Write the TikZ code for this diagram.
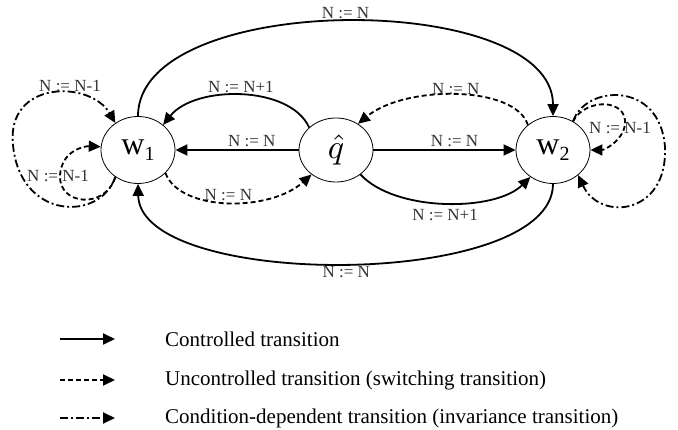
\documentclass[tikz,border=0pt]{standalone}
\usepackage{fontspec}
\setmainfont{Liberation Serif}
\usetikzlibrary{arrows.meta,shapes.geometric}
\newcommand\wstate[1]{{\fontsize{32}{32}\selectfont w\raisebox{-6pt}{\fontsize{20}{20}\selectfont #1}}}
\begin{document}
\begin{tikzpicture}[x=1pt,y=-1pt,
  st/.style={ellipse,draw,line width=0.8pt,minimum width=74pt,minimum height=67pt,inner sep=0pt},
  ctrl/.style={line width=1.8pt,-{Triangle[length=12pt,width=11pt]}},
  unc/.style={ctrl,dash pattern=on 5pt off 3pt},
  inv/.style={ctrl,dash pattern=on 8pt off 3pt on 2pt off 3pt},
  lbl/.style={font=\fontsize{17}{17}\selectfont,text=black!80,inner sep=1pt},
  leg/.style={font=\fontsize{21}{21}\selectfont,anchor=west,inner sep=0pt}]
\useasboundingbox (0,0) rectangle (678,430);

% states
\node[st] (w1) at (138,150) {\wstate{1}};
\node[st,minimum height=64pt] (q) at (336,150) {\scalebox{3.4}{$\hat{q}$}};
\node[st] (w2) at (553,150) {\wstate{2}};

% controlled transitions
\draw[ctrl] (w1.north) .. controls (138,-10) and (553,-10) .. (w2.north)
  node[lbl,pos=0.5,above=1pt] (l1) {N := N};
\draw[ctrl] (q.140) .. controls (290,85) and (195,85) .. (w1.45)
  node[lbl,pos=0.5,above=1pt] (l2) {N := N+1};
\draw[ctrl] (q.west) -- (w1.east) node[lbl,pos=0.38,above=1pt] (l3) {N := N};
\draw[ctrl] (q.east) -- (w2.west) node[lbl,pos=0.57,above=1pt] (l4) {N := N};
\draw[ctrl] (q.-45) .. controls (395,212) and (495,212) .. (w2.-130)
  node[lbl,pos=0.5,below=4pt] (l5) {N := N+1};
\draw[ctrl] (w2.south) .. controls (553,290) and (140,290) .. (w1.south)
  node[lbl,pos=0.5,below=1pt] (l6) {N := N};

% uncontrolled transitions
\draw[unc] (w2.135) .. controls (515,85) and (405,85) .. (q.50)
  node[lbl,pos=0.5,yshift=6pt] (l7) {N := N};
\draw[unc] (w1.-40) .. controls (180,212) and (270,212) .. (q.-135)
  node[lbl,pos=0.5,yshift=7pt] (l8) {N := N};

% self loops at w1
\draw[inv] (w1.-130) .. controls (100,222) and (20,220) .. (13,145)
  .. controls (6,80) and (90,80) .. (w1.130);
\node[lbl] (l9) at (70,86) {N := N-1};
\draw[unc] (w1.-130) .. controls (105,210) and (58,205) .. (60,175)
  .. controls (62,150) and (85,146) .. (w1.175);
\node[lbl] (l10) at (58,176) {N := N-1};

% self loops at w2
\draw[unc] (w2.55) .. controls (585,98) and (628,98) .. (625,125)
  .. controls (623,140) and (605,150) .. (w2.east);
\node[lbl] (l11) at (620,128) {N := N-1};
\draw[inv] (w2.55) .. controls (585,85) and (660,80) .. (665,147)
  .. controls (668,215) and (600,222) .. (w2.-45);

% legend
\coordinate (a1) at (60,339); \coordinate (b1) at (115,339);
\coordinate (a2) at (60,380); \coordinate (b2) at (115,380);
\coordinate (a3) at (60,418); \coordinate (b3) at (115,418);
\draw[ctrl] (a1) -- (b1);
\draw[unc] (a2) -- (b2);
\draw[inv] (a3) -- (b3);
\node[leg] (t1) at (165,339) {Controlled transition};
\node[leg] (t2) at (165,380) {Uncontrolled transition (switching transition)};
\node[leg] (t3) at (165,418) {Condition-dependent transition (invariance transition)};
\end{tikzpicture}
\end{document}
